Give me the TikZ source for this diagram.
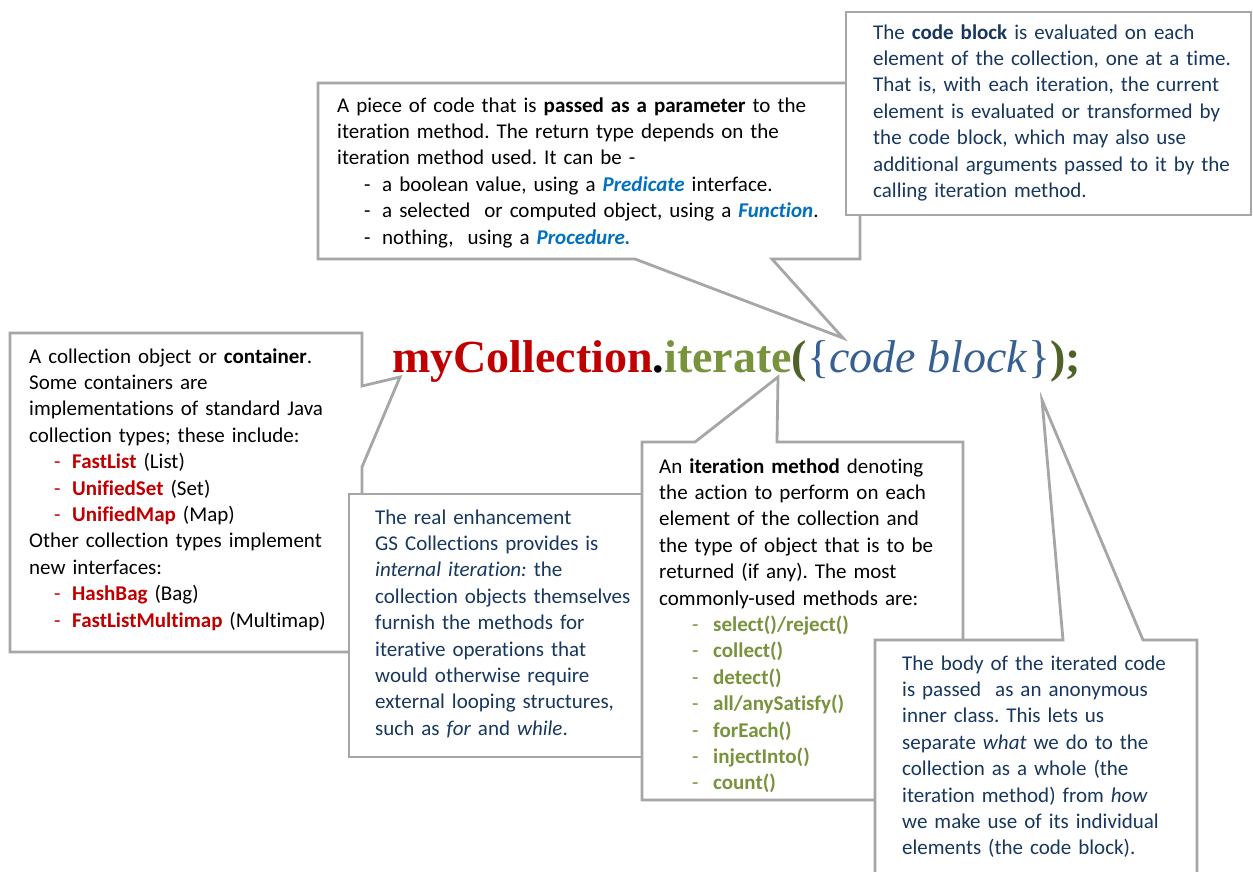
\documentclass[tikz,border=0pt]{standalone}
\usepackage{fontspec}
\setmainfont{Carlito}[Ligatures=NoCommon]
\newfontfamily\titlefont{Liberation Serif}
\frenchspacing
\hyphenpenalty=10000
\definecolor{boxline}{RGB}{166,166,166}
\definecolor{navy}{RGB}{23,55,94}
\definecolor{darkred}{RGB}{192,0,0}
\definecolor{olive}{RGB}{119,147,60}
\definecolor{darkolive}{RGB}{79,98,40}
\definecolor{codeblue}{RGB}{54,96,146}
\definecolor{linkblue}{RGB}{0,112,192}
\newcommand{\dashitem}[4]{\hspace*{#1}\makebox[#2][l]{\color{#3}-}#4}
\newcommand{\ifc}[1]{{\color{linkblue}\bfseries\itshape #1}}
\newcommand{\coll}[1]{{\color{darkred}\bfseries #1}}
\newcommand{\meth}[1]{{\color{olive}\bfseries #1}}
\tikzset{
  bubble/.style={draw=boxline, fill=white, line width=2.8pt, line join=miter},
  boxtext/.style={anchor=base west, inner sep=0pt, align=left, font=\fontsize{21}{26.4}\selectfont},
}
\begin{document}
\begin{tikzpicture}[x=1pt, y=-1pt]
\path[use as bounding box] (0,0) rectangle (1253,871);
\coordinate (tippar) at (843,338);
\coordinate (tipcoll) at (400,377);
\coordinate (tipiter) at (778,377);
\coordinate (tipbody) at (1042,400);

\draw[bubble] (318,83) -- (860,83) -- (860,259) -- (772,259) -- (tippar) -- (635,259) -- (318,259) -- cycle;
\node[boxtext, text width=520pt] (param) at (337,112) {A piece of code that is \textbf{passed as a parameter} to the\\
iteration method. The return type depends on the\\
iteration method used. It can be -\\
\dashitem{27pt}{18pt}{black}{a boolean value, using a \ifc{Predicate} interface.}\\
\dashitem{27pt}{18pt}{black}{a selected\ \ or computed object, using a \ifc{Function}.}\\
\dashitem{27pt}{18pt}{black}{nothing,\ \ using a \ifc{Procedure.}}};

\draw[bubble] (846,12) -- (1251,12) -- (1251,215) -- (846,215) -- cycle;
\node[boxtext, text width=375pt, text=navy] (eval) at (873,39) {The \textbf{code block} is evaluated on each\\
element of the collection, one at a time.\\
That is, with each iteration, the current\\
element is evaluated or transformed by\\
the code block, which may also use\\
additional arguments passed to it by the\\
calling iteration method.};

\draw[bubble] (10,333) -- (362,333) -- (362,386) -- (tipcoll) -- (362,467) -- (362,652) -- (10,652) -- cycle;
\node[boxtext, text width=325pt] (container) at (29,363) {A collection object or \textbf{container}.\\
Some containers are\\
implementations of standard Java\\
collection types; these include:\\
\dashitem{25pt}{18pt}{darkred}{\coll{FastList} (List)}\\
\dashitem{25pt}{18pt}{darkred}{\coll{UnifiedSet} (Set)}\\
\dashitem{25pt}{18pt}{darkred}{\coll{UnifiedMap} (Map)}\\
Other collection types implement\\
new interfaces:\\
\dashitem{25pt}{18pt}{darkred}{\coll{HashBag} (Bag)}\\
\dashitem{25pt}{18pt}{darkred}{\coll{FastListMultimap} (Multimap)}};

\draw[bubble] (349,494) rectangle (645,757);
\node[boxtext, text width=262pt, text=navy] (internal) at (375,524) {The real enhancement\\
GS Collections provides is\\
\textit{internal iteration:} the\\
collection objects themselves\\
furnish the methods for\\
iterative operations that\\
would otherwise require\\
external looping structures,\\
such as \textit{for} and \textit{while}.};

\draw[bubble] (642,442) -- (695,442) -- (tipiter) -- (777,442) -- (963,442) -- (963,800) -- (642,800) -- cycle;
\node[boxtext, text width=300pt] (method) at (659,473) {An \textbf{iteration method} denoting\\
the action to perform on each\\
element of the collection and\\
the type of object that is to be\\
returned (if any). The most\\
commonly-used methods are:\\
\dashitem{33pt}{21pt}{olive}{\meth{select()/reject()}}\\
\dashitem{33pt}{21pt}{olive}{\meth{collect()}}\\
\dashitem{33pt}{21pt}{olive}{\meth{detect()}}\\
\dashitem{33pt}{21pt}{olive}{\meth{all/anySatisfy()}}\\
\dashitem{33pt}{21pt}{olive}{\meth{forEach()}}\\
\dashitem{33pt}{21pt}{olive}{\meth{injectInto()}}\\
\dashitem{33pt}{21pt}{olive}{\meth{count()}}};

\draw[bubble] (875,640) -- (1063,640) -- (tipbody) -- (1143,640) -- (1197,640) -- (1197,880) -- (875,880) -- cycle;
\node[boxtext, text width=295pt, text=navy] (body) at (902,670) {The body of the iterated code\\
is passed\ \ as an anonymous\\
inner class. This lets us\\
separate \textit{what} we do to the\\
collection as a whole (the\\
iteration method) from \textit{how}\\
we make use of its individual\\
elements (the code block).};

\node[anchor=base west, inner sep=0pt, font=\titlefont\bfseries\fontsize{46}{50}\selectfont] (code) at (392,372)
  {{\color{darkred}myCollection}.{\color{olive}iterate}{\color{darkolive}(}{\color{codeblue}\mdseries\{{\itshape code block\/}\}}{\color{darkolive});}};
\end{tikzpicture}
\end{document}
